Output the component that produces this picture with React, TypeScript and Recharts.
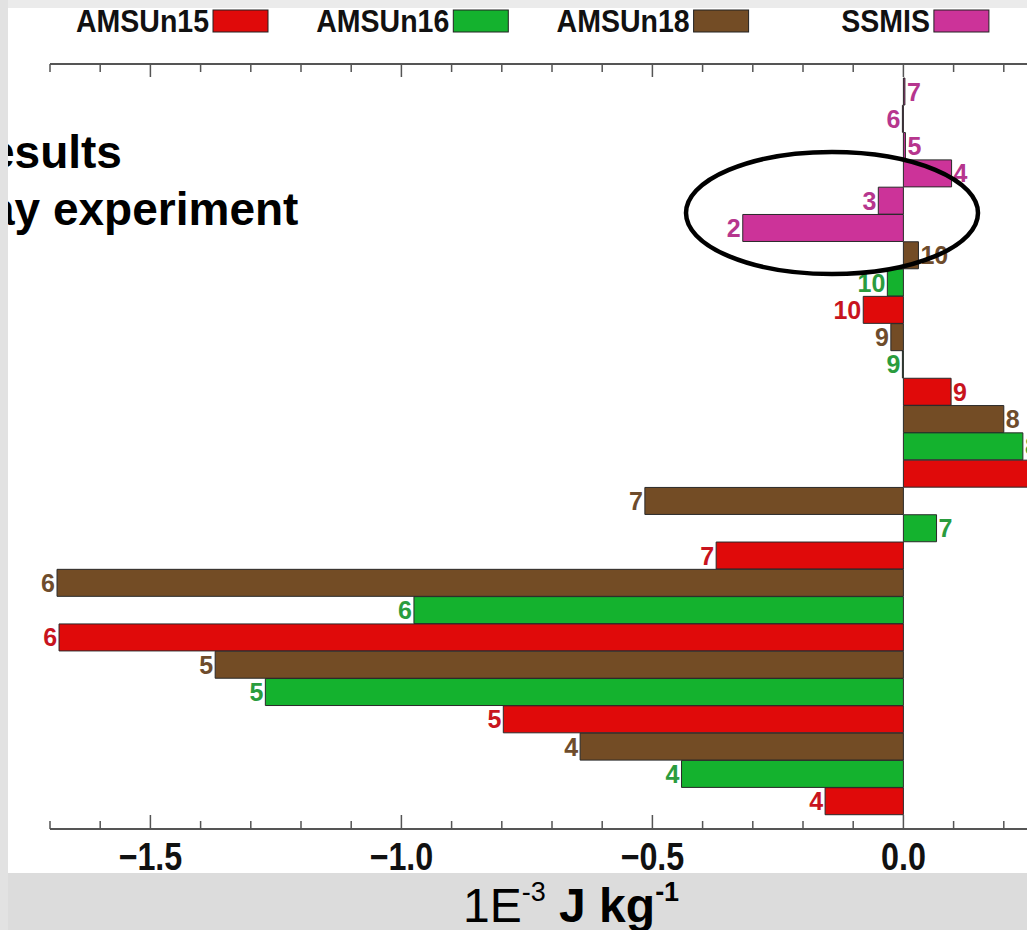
import { BarChart, Bar, XAxis, YAxis, Cell, LabelList } from "recharts";

// channel numbers, bottom row of each instrument block first
const amsuChannels = [4, 5, 6, 7, 8, 9, 10];
const ssmisChannels = [2, 3, 4, 5, 6, 7];

// impact per channel, 1E-3 J/kg
const amsun15 = [-0.156, -0.797, -1.682, -0.373, 0.26, 0.095, -0.08];
const amsun16 = [-0.442, -1.271, -0.975, 0.066, 0.238, -0.002, -0.032];
const amsun18 = [-0.644, -1.371, -1.686, -0.515, 0.2, -0.025, 0.03];
const ssmis = [-0.32, -0.05, 0.096, 0.004, -0.002, 0.003];

const seriesNames = ["AMSUn15", "AMSUn16", "AMSUn18", "SSMIS"];
const seriesColors = ["#e00a0a", "#14b22e", "#734c25", "#cc3399"];
const labelColors = ["#c8141e", "#2a9c3e", "#6e4c2c", "#b6368e"];

const xTicks = [
  -1.7, -1.6, -1.5, -1.4, -1.3, -1.2, -1.1, -1.0, -0.9, -0.8, -0.7, -0.6,
  -0.5, -0.4, -0.3, -0.2, -0.1, 0.0, 0.1, 0.2, 0.3,
];
const xDomain = [-1.7, 0.3];

type Row = { key: string; series: number; channel: number; value: number };

// top to bottom: SSMIS 7..2, then AMSU channels 10..4 as n18, n16, n15
const rows: Row[] = [];
for (let i = ssmisChannels.length - 1; i >= 0; i--) {
  rows.push({ key: `SSMIS-${ssmisChannels[i]}`, series: 3, channel: ssmisChannels[i], value: ssmis[i] });
}
for (let i = amsuChannels.length - 1; i >= 0; i--) {
  const ch = amsuChannels[i];
  rows.push({ key: `n18-${ch}`, series: 2, channel: ch, value: amsun18[i] });
  rows.push({ key: `n16-${ch}`, series: 1, channel: ch, value: amsun16[i] });
  rows.push({ key: `n15-${ch}`, series: 0, channel: ch, value: amsun15[i] });
}

const FONT = "'Liberation Sans', Arial, Helvetica, sans-serif";
const AXIS = "#555";

const isMajor = (v: number) => Math.abs(v * 2 - Math.round(v * 2)) < 1e-6;
const fmt = (v: number) => (v < -1e-9 ? "\u2212" + Math.abs(v).toFixed(1) : Math.abs(v).toFixed(1));

const BottomTick = (props: any) => {
  const { x, y, payload } = props;
  const major = isMajor(payload.value);
  return (
    <g>
      <line x1={x} x2={x} y1={y} y2={y - (major ? 14 : 8)} stroke={AXIS} strokeWidth={1.5} />
      {major && (
        <text
          transform={`translate(${x},${y + 41}) scale(0.85,1)`}
          textAnchor="middle"
          fontFamily={FONT}
          fontSize={38}
          fontWeight="bold"
          fill="#111"
        >
          {fmt(payload.value)}
        </text>
      )}
    </g>
  );
};

const TopTick = (props: any) => {
  const { x, y, payload } = props;
  const major = isMajor(payload.value);
  return <line x1={x} x2={x} y1={y} y2={y + (major ? 13 : 8)} stroke={AXIS} strokeWidth={1.5} />;
};

const ChannelLabel = (props: any) => {
  const box = props.viewBox ?? props;
  const { x, y, width, height } = box;
  const row = rows.find((r) => r.key === props.value);
  if (!row) return null;
  const left = Math.min(x, x + width);
  const right = Math.max(x, x + width);
  const neg = row.value < 0;
  return (
    <text
      x={neg ? left - 2 : right + 2}
      y={y + height / 2}
      textAnchor={neg ? "end" : "start"}
      dominantBaseline="central"
      fill={labelColors[row.series]}
      fontFamily={FONT}
      fontSize={25}
      fontWeight="bold"
    >
      {row.channel}
    </text>
  );
};

function LegendRow() {
  return (
    <g>
      {seriesNames.map((name, i) => {
        const boxRight = 268 + 240.3 * i;
        const boxLeft = boxRight - 55;
        return (
          <g key={name}>
            <text
              transform={`translate(${boxLeft - 4},32) scale(0.92,1)`}
              textAnchor="end"
              fontFamily={FONT}
              fontSize={31}
              fontWeight="bold"
              fill="#111"
            >
              {name}
            </text>
            <rect x={boxLeft} y={10} width={55} height={22} fill={seriesColors[i]} stroke="#222" strokeWidth={1} />
          </g>
        );
      })}
    </g>
  );
}

export default function App() {
  return (
    <div
      style={{
        position: "absolute",
        left: 0,
        top: 0,
        width: 1027,
        height: 930,
        overflow: "hidden",
        background: "#fff",
      }}
    >
      <BarChart
        width={1080}
        height={930}
        data={rows}
        layout="vertical"
        barCategoryGap={0}
        margin={{ top: 54, right: 26, bottom: 61, left: 50 }}
      >
        <XAxis
          xAxisId="top"
          orientation="top"
          type="number"
          domain={xDomain}
          ticks={xTicks}
          interval={0}
          allowDataOverflow
          height={10}
          tickSize={0}
          tickMargin={0}
          tickLine={false}
          axisLine={{ stroke: AXIS, strokeWidth: 2 }}
          tick={<TopTick />}
        />
        <XAxis
          xAxisId="bottom"
          orientation="bottom"
          type="number"
          domain={xDomain}
          ticks={xTicks}
          interval={0}
          allowDataOverflow
          height={40}
          tickSize={0}
          tickMargin={0}
          tickLine={false}
          axisLine={{ stroke: AXIS, strokeWidth: 2 }}
          tick={<BottomTick />}
        />
        <YAxis type="category" dataKey="key" hide padding={{ top: 14, bottom: 14 }} />
        <Bar dataKey="value" xAxisId="bottom" stroke="#2a2a2a" strokeWidth={1} isAnimationActive={false}>
          {rows.map((r) => (
            <Cell key={r.key} fill={seriesColors[r.series]} />
          ))}
          <LabelList dataKey="key" content={<ChannelLabel />} />
        </Bar>
      </BarChart>

      <svg
        width={1027}
        height={930}
        style={{ position: "absolute", left: 0, top: 0, pointerEvents: "none" }}
      >
        <rect x={0} y={0} width={1027} height={8} fill="#ebebeb" />
        <rect x={0} y={873} width={1027} height={57} fill="#dcdcdc" />
        <LegendRow />
        <text x={-11} y={168} fontFamily={FONT} fontSize={46} fontWeight="bold" fill="#000">
          esults
        </text>
        <text x={-11} y={225} fontFamily={FONT} fontSize={46} fontWeight="bold" fill="#000">
          ay experiment
        </text>
        <rect x={0} y={0} width={8} height={930} fill="#e2e2e2" />
        <ellipse cx={832} cy={213} rx={146} ry={61} fill="none" stroke="#000" strokeWidth={4.5} />
        <text x={463} y={922} fontFamily={FONT} fontSize={48} fill="#000">
          <tspan>1E</tspan>
          <tspan fontSize={27} dy={-21}>-3</tspan>
          <tspan fontWeight="bold" dy={21}> J kg</tspan>
          <tspan fontWeight="bold" fontSize={27} dy={-21}>-1</tspan>
        </text>
      </svg>
    </div>
  );
}
